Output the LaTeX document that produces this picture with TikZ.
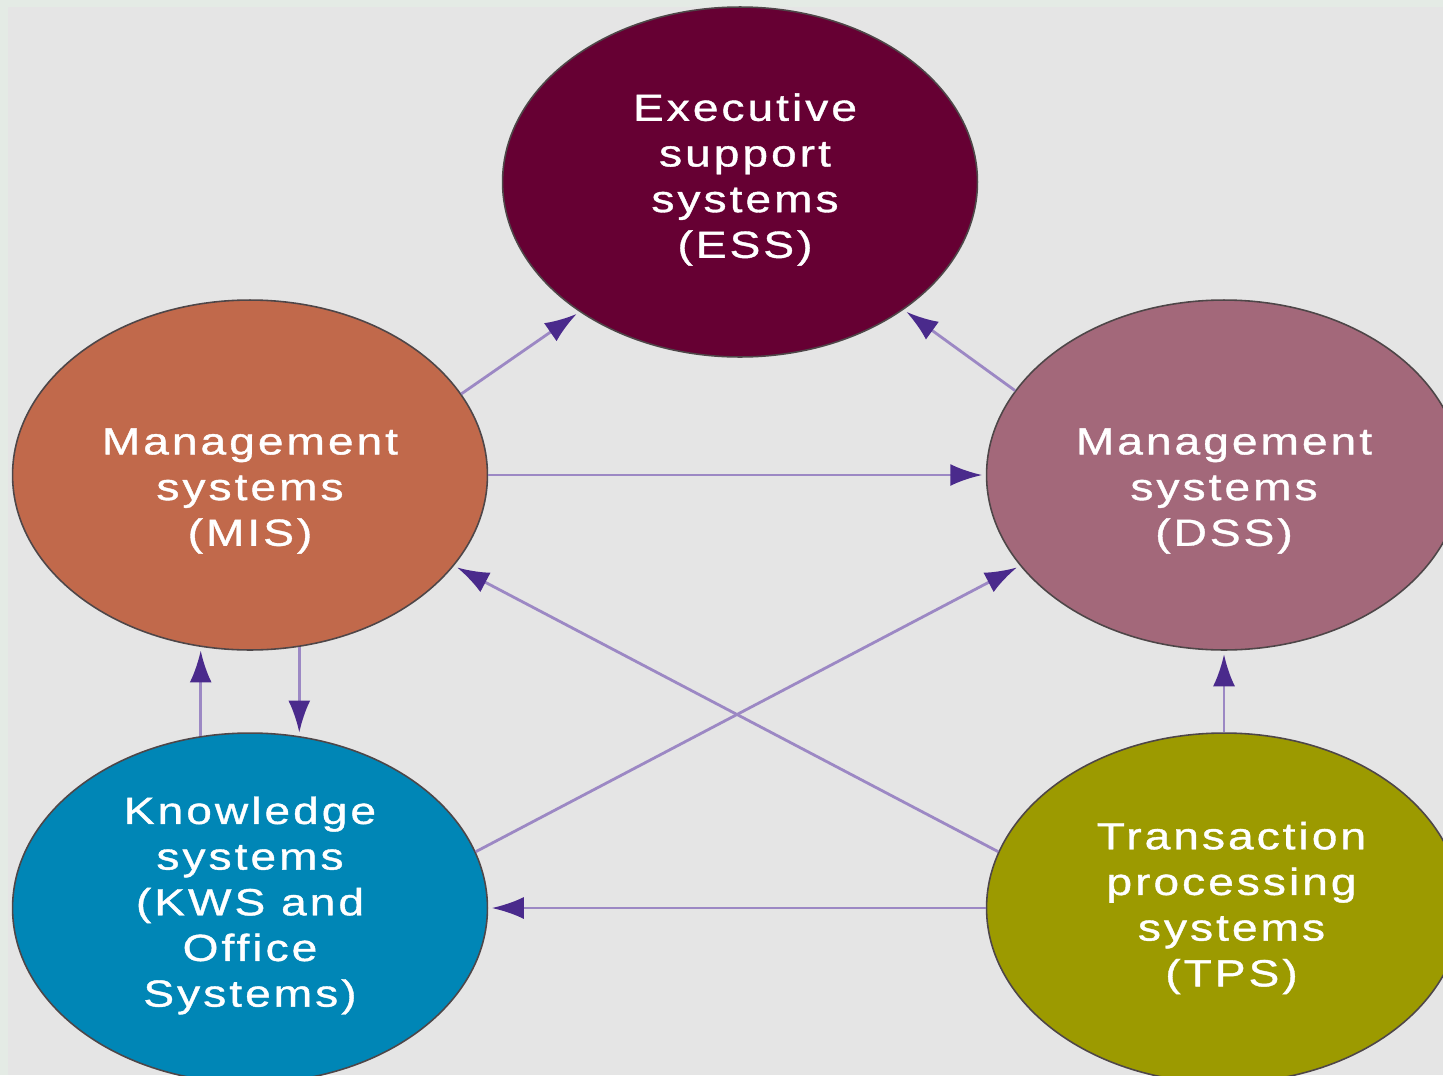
\documentclass[tikz,border=0pt]{standalone}
\usepackage{fontspec}
\setmainfont{Liberation Sans}[FakeStretch=1.22,LetterSpace=8,FakeBold=1]
\usetikzlibrary{arrows.meta}
\usetikzlibrary{shapes.geometric}

\definecolor{frame}{HTML}{E4EBE5}
\definecolor{paper}{HTML}{E5E5E5}
\definecolor{rim}{HTML}{4E4648}
\definecolor{essfill}{HTML}{660033}
\definecolor{misfill}{HTML}{C1694B}
\definecolor{dssfill}{HTML}{A3687A}
\definecolor{kwsfill}{HTML}{0086B6}
\definecolor{tpsfill}{HTML}{9C9A00}
\definecolor{flowline}{HTML}{9C88C4}
\definecolor{flowhead}{HTML}{4A2A8C}

\tikzset{
  system/.style={draw=rim,line width=0.9pt,ellipse,inner sep=0pt,
    minimum width=9.5cm,minimum height=7cm},
  caption/.style={text=white,align=center,inner sep=0pt,
    font=\fontsize{21.5}{26}\selectfont},
  flow/.style={draw=flowline,line width=1.6pt,shorten >=2pt,
    -{Latex[length=0.64cm,width=0.44cm,color=flowhead]}}
}

\begin{document}
\begin{tikzpicture}[x=0.02cm,y=-0.02cm]
\clip (0,0) rectangle (1443,1075);
\fill[frame] (0,0) rectangle (1443,1075);
\fill[paper] (8,7) rectangle (1443,1075);

% the five systems
\node[system,fill=essfill] (ess) at (740,182) {};
\node[system,fill=misfill] (mis) at (250,475) {};
\node[system,fill=dssfill] (dss) at (1224,475) {};
\node[system,fill=kwsfill] (kws) at (250,908) {};
\node[system,fill=tpsfill] (tps) at (1224,908) {};

\node[caption] (ess-text) at ([xshift=0.1cm,yshift=0.05cm]ess.center) {Executive\\support\\systems\\(ESS)};
\node[caption] (mis-text) at ([yshift=-0.32cm]mis.center) {Management\\systems\\(MIS)};
\node[caption] (dss-text) at ([yshift=-0.32cm]dss.center) {Management\\systems\\(DSS)};
\node[caption] (kws-text) at ([yshift=0.05cm]kws.center) {Knowledge\\systems\\(KWS and\\Office\\Systems)};
\node[caption] (tps-text) at ([xshift=0.15cm]tps.center) {Transaction\\processing\\systems\\(TPS)};

% flows
\draw[flow] (mis.21) to (ess.219);
\draw[flow] (dss.158) to (ess.322);
\draw[flow] (mis.east) to (dss.west);
\draw[flow] (tps.166) to (mis.336);
\draw[flow] (kws.14) to (dss.204);
\draw[flow] (kws.106) to (mis.254);
\draw[flow] (mis.286) to (kws.74);
\draw[flow] (tps.north) to (dss.south);
\draw[flow] (tps.west) to (kws.east);
\end{tikzpicture}
\end{document}
